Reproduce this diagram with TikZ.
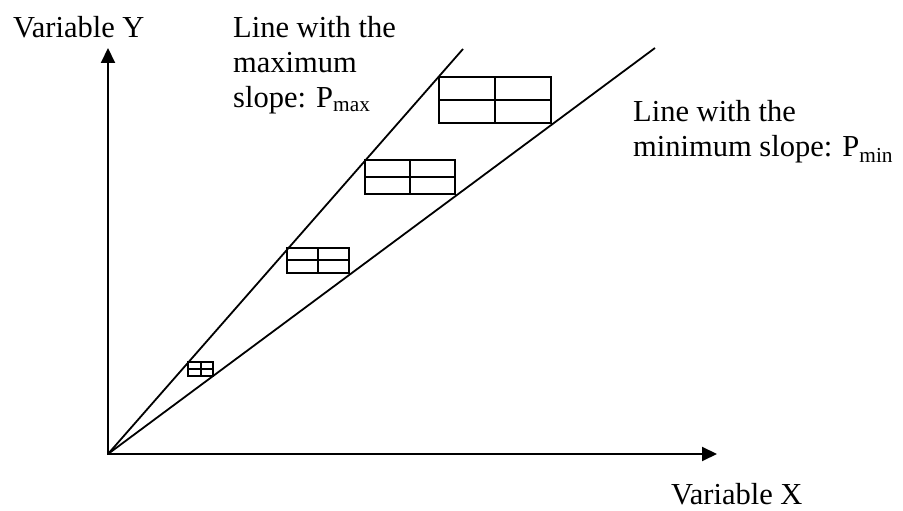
\documentclass[tikz,border=0pt]{standalone}
\usepackage{fontspec}
\setmainfont{Liberation Serif}
\usetikzlibrary{arrows.meta}

\begin{document}
\begin{tikzpicture}
      [x=1pt,y=1pt,
        axisline/.style={line width=2pt,
          {Triangle[length=15pt,width=14pt]}-{Triangle[length=15pt,width=14pt]}},
        slopeline/.style={line width=1.8pt},
        errbox/.style={draw,line width=2pt,inner sep=0pt,
          path picture={\draw[line width=2pt]
            (path picture bounding box.north) -- (path picture bounding box.south)
            (path picture bounding box.west) -- (path picture bounding box.east);}},
        txt/.style={inner sep=0pt,align=left,anchor=base west,
          font=\fontsize{30.5}{35}\selectfont}]
  \useasboundingbox (0,0) rectangle (903,511);
  % axes and the two lines
  \coordinate (O) at (108,57);
  \coordinate (ytip) at (108,463);
  \coordinate (xtip) at (717,57);
  \coordinate (pmax) at (463,462);
  \coordinate (pmin) at (655,463);
  \draw[axisline] (ytip) -- (O) -- (xtip);
  \draw[slopeline] (O) -- (pmax);
  \draw[slopeline] (O) -- (pmin);
  % error boxes
  \node[errbox,minimum width=25pt,minimum height=14pt] (box1) at (200.5,142) {};
  \node[errbox,minimum width=62pt,minimum height=25pt] (box2) at (318,250.5) {};
  \node[errbox,minimum width=90pt,minimum height=34pt] (box3) at (410,334) {};
  \node[errbox,minimum width=112pt,minimum height=46pt] (box4) at (495,411) {};
  % labels (base = last line)
  \node[txt] (vary) at (13,473) {Variable Y};
  \node[txt] (varx) at (671,6) {Variable X};
  \node[txt] (maxlab) at (233,403) {Line with the\\maximum\\slope: P\textsubscript{max}};
  \node[txt] (minlab) at (633,354) {Line with the\\minimum slope: P\textsubscript{min}};
\end{tikzpicture}
\end{document}
